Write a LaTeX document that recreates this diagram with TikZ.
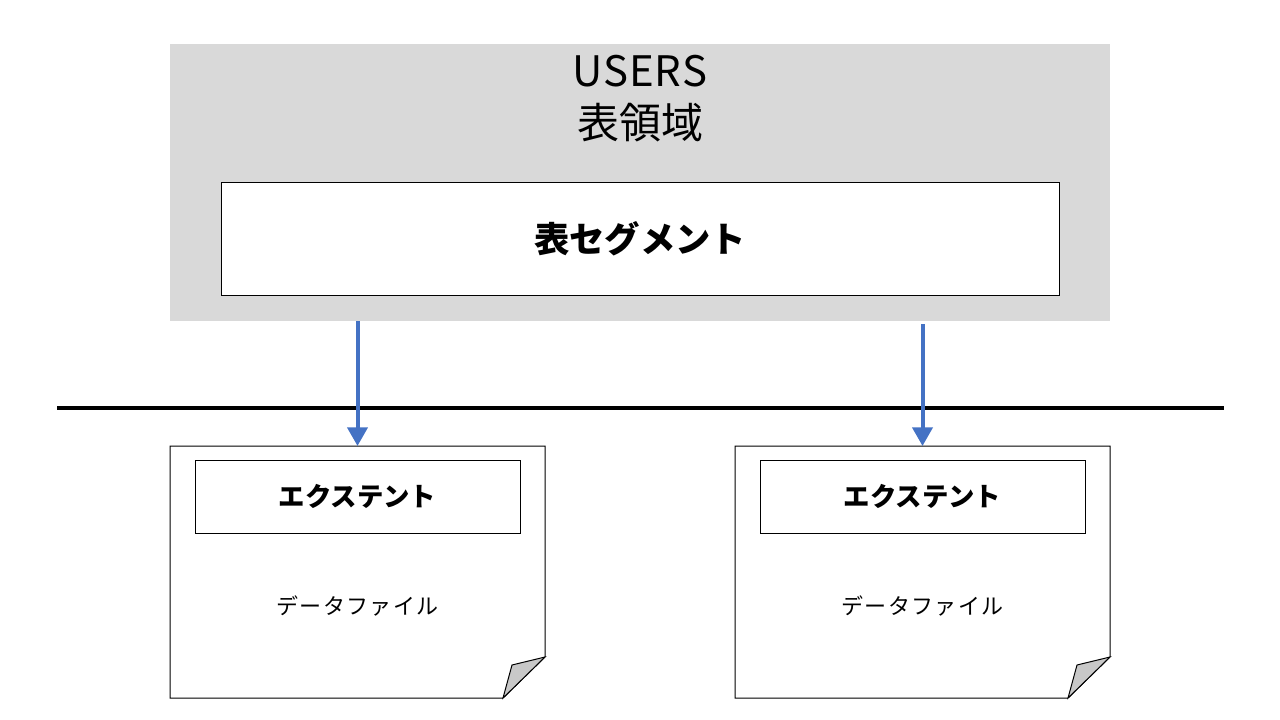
\documentclass[tikz,border=0pt]{standalone}
\usepackage{fontspec}
\newfontfamily\jp{Noto Sans CJK JP}
\usetikzlibrary{arrows.meta}
\definecolor{areagray}{RGB}{217,217,217}
\definecolor{arrowblue}{RGB}{68,114,196}
\definecolor{foldgray}{RGB}{200,200,200}
\tikzset{
  tsarea/.style={fill=areagray,draw=none},
  segbox/.style={draw=black,line width=0.75pt,fill=white},
  extbox/.style={draw=black,line width=0.75pt,fill=white},
  docpage/.style={draw=black,line width=0.75pt,fill=white},
  fold/.style={draw=black,line width=0.75pt,fill=foldgray},
  flowarrow/.style={draw=arrowblue,line width=3pt,-{Triangle[length=14pt,width=15pt]}},
  divider/.style={draw=black,line width=2.4pt}
}
\begin{document}
\begin{tikzpicture}[x=0.75pt,y=-0.75pt]
\useasboundingbox (0,0) rectangle (1280,720);
% tablespace area
\fill[tsarea] (170,44) rectangle (1110,321);
\node[font=\jp\fontsize{31.5}{40}\selectfont,align=center] (ts) at (640,99) {U\kern0.5pt S\kern0.5pt E\kern0.5pt R\kern0.5pt S\\[-1pt]表領域};
\node[segbox,minimum width=838*0.75pt,minimum height=112*0.75pt,font=\jp\bfseries\fontsize{26.5}{30}\selectfont] (seg) at (640,239) {表セグメント};
% divider
\coordinate (dl) at (57,408);
\coordinate (dr) at (1224,408);
\draw[divider] (dl) -- (dr);
% data files
\foreach \n/\x in {a/170,b/735}{
  \draw[docpage] (\x,446) -- (\x+375,446) -- (\x+375,657) -- (\x+333,698) -- (\x,698) -- cycle;
  \draw[fold] (\x+375,657) -- (\x+342,665) -- (\x+333,698) -- cycle;
  \node[extbox,minimum width=325*0.75pt,minimum height=73*0.75pt,font=\jp\bfseries\fontsize{19.8}{22}\selectfont] (ext\n) at (\x+187.5,496.5) {エクステント};
  \node[font=\jp\fontsize{16.5}{20}\selectfont] (df\n) at (\x+187.5,606) {デ\kern1pt ー\kern1pt タ\kern1pt フ\kern1pt ァ\kern1pt イ\kern1pt ル};
  \coordinate (top\n) at (\x+187.5,446);
}
\coordinate (sa) at (357.5,321);
\coordinate (sb) at (922.5,324);
\draw[flowarrow] (sa) -- (topa);
\draw[flowarrow] (sb) -- (topb);
\end{tikzpicture}
\end{document}
